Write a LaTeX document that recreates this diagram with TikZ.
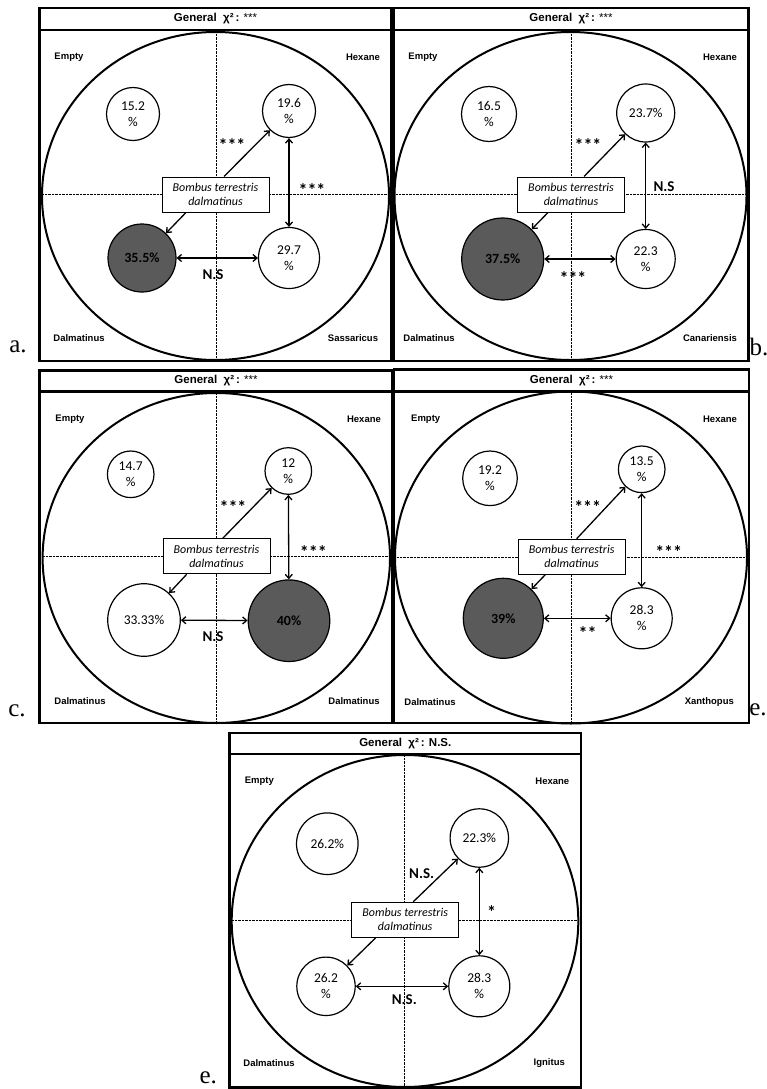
\documentclass[tikz,border=0pt]{standalone}
\usepackage{fontspec}
\usetikzlibrary{arrows.meta,calc}
\newfontfamily\labf{Liberation Sans}
\newfontfamily\calf{Carlito}
\newfontfamily\serf{Liberation Serif}
\definecolor{darkg}{HTML}{5A5A5A}
\tikzset{
  framebox/.style={line width=2.6pt},
  arena/.style={line width=2pt},
  dotline/.style={line width=0.7pt, dash pattern=on 0.7pt off 0.7pt},
  pc/.style={circle, draw, line width=1.2pt, fill=white, inner sep=0pt, align=center,
     font=\calf\fontsize{13.5}{16}\selectfont},
  dk/.style={pc, fill=darkg, font=\calf\bfseries\fontsize{14}{16}\selectfont},
  species/.style={draw, line width=1pt, fill=white, minimum width=107pt, minimum height=35pt,
     inner sep=0pt, align=center, font=\calf\itshape\fontsize{12}{14}\selectfont},
  arr/.style={-{Straight Barb[length=4pt,width=7pt]}, line width=1.3pt},
  darr/.style={{Straight Barb[length=4pt,width=7pt]}-{Straight Barb[length=4pt,width=7pt]}, line width=1.3pt},
  corner/.style={font=\labf\bfseries\fontsize{9.5}{11}\selectfont, inner sep=0pt},
  sig/.style={font=\calf\bfseries\fontsize{15}{16}\selectfont, inner sep=0pt},
  st/.style={font=\calf\bfseries\fontsize{18}{18}\selectfont, inner sep=0pt},
  ttl/.style={font=\labf\bfseries\fontsize{11.5}{12}\selectfont, inner sep=0pt},
  plab/.style={font=\serf\fontsize{25}{26}\selectfont, inner sep=0pt},
}
\newcommand{\ttltext}[1]{General\ \ χ²\,: #1}
\newcommand{\stars}{{\mdseries ***}}
\begin{document}
\begin{tikzpicture}[x=1pt,y=-1pt]
\useasboundingbox (0,0) rectangle (767,1089);
\fill[white] (0,0) rectangle (767,1089);

% ================= panel a =================
\draw[dotline] (216,31) -- (216,360);
\draw[dotline] (42,194.5) -- (389,194.5);
\draw[arena] (215.5,196) ellipse [x radius=173.5, y radius=164];
\draw[framebox] (39.5,8) rectangle (391.5,30);
\draw[framebox] (39.5,30) rectangle (391.5,361);
\node[ttl] (aT) at (215.5,19) {\ttltext{\stars}};
\node[corner] (aC1) at (69,57) {Empty};
\node[corner] (aC2) at (363,57) {Hexane};
\node[corner] (aC3) at (79,338) {Dalmatinus};
\node[corner] (aC4) at (353,338) {Sassaricus};
\node[pc, minimum size=53pt] (aE) at (133,114) {15.2\\\%};
\node[pc, minimum size=53pt] (aH) at (289,111) {19.6\\\%};
\node[dk, minimum size=68pt] (aD) at (142,258) {35.5\%};
\node[pc, minimum size=61pt] (aS) at (289,258) {29.7\\\%};
\node[species] (aB) at (215.5,194.5) {Bombus terrestris\\dalmatinus};
\draw[arr] ($(aB.north)+(8.5,0)$) -- (aH);
\draw[arr] ($(aB.south)+(-29.5,0)$) -- (aD);
\draw[darr] (aH) -- (aS);
\draw[darr] (aD) -- (aS);
\node[st] (aL1) at (232,145) {***};
\node[st] (aL2) at (312,190) {***};
\node[sig] (aL3) at (213,275) {N.S};
\node[plab] (aP) at (18,347) {a.};

% ================= panel b =================
\draw[dotline] (571,31) -- (571,360);
\draw[dotline] (396,194.5) -- (745,194.5);
\draw[arena] (570.5,196) ellipse [x radius=176, y radius=164];
\draw[framebox] (393.5,8) rectangle (748.5,30);
\draw[framebox] (393.5,30) rectangle (748.5,361);
\node[ttl] (bT) at (571,19) {\ttltext{\stars}};
\node[corner] (bC1) at (423,57) {Empty};
\node[corner] (bC2) at (720,57) {Hexane};
\node[corner] (bC3) at (429,338) {Dalmatinus};
\node[corner] (bC4) at (710,338) {Canariensis};
\node[pc, minimum size=55pt] (bE) at (489,114) {16.5\\\%};
\node[pc, minimum size=58pt] (bH) at (645.7,113) {23.7\%};
\node[dk, minimum size=82pt] (bD) at (502.7,259) {37.5\%};
\node[pc, minimum size=59pt] (bS) at (645.7,259) {22.3\\\%};
\node[species] (bB) at (571,194.5) {Bombus terrestris\\dalmatinus};
\draw[arr] ($(bB.north)+(13,0)$) -- (bH);
\draw[arr] ($(bB.south)+(-23,0)$) -- (bD);
\draw[darr] (bH) -- (bS);
\draw[darr] (bD) -- (bS);
\node[st] (bL1) at (588,145) {***};
\node[sig] (bL2) at (664,187) {N.S};
\node[st] (bL3) at (573,278) {***};
\node[plab] (bP) at (759,347) {b.};

% ================= panel c =================
\draw[dotline] (216.7,393) -- (216.7,722);
\draw[dotline] (43,556.7) -- (390,556.7);
\draw[arena] (216.3,558) ellipse [x radius=173.7, y radius=165];
\draw[framebox] (39.5,370.5) rectangle (392.5,391.5);
\draw[framebox] (39.5,391.5) rectangle (392.5,723);
\node[ttl] (cT) at (216,381) {\ttltext{\stars}};
\node[corner] (cC1) at (70,419) {Empty};
\node[corner] (cC2) at (364,419) {Hexane};
\node[corner] (cC3) at (80,701) {Dalmatinus};
\node[corner] (cC4) at (354,701) {Dalmatinus};
\node[pc, minimum size=46.6pt] (cE) at (130.7,474.3) {14.7\\\%};
\node[pc, minimum size=46.6pt] (cH) at (288.3,471) {12\\\%};
\node[pc, minimum size=72.6pt] (cL) at (144,620) {33.33\%};
\node[dk, minimum size=81.6pt] (cD) at (289,620.7) {40\%};
\node[species] (cB) at (216.5,556.3) {Bombus terrestris\\dalmatinus};
\draw[arr] ($(cB.north)+(6.2,0)$) -- (cH);
\draw[arr] ($(cB.south)+(-29.8,0)$) -- (cL);
\draw[darr] (cH) -- (cD);
\draw[darr] (cL) -- (cD);
\node[st] (cL1) at (233,507) {***};
\node[st] (cL2) at (313.3,552) {***};
\node[sig] (cL3) at (213,637) {N.S};
\node[plab] (cP) at (17,711) {c.};

% ================= panel d =================
\draw[dotline] (571.7,393) -- (571.7,722);
\draw[dotline] (397,557.7) -- (745,557.7);
\draw[arena] (571,557.5) ellipse [x radius=176, y radius=166];
\draw[framebox] (394,369.5) rectangle (749,391.5);
\draw[framebox] (394,391.5) rectangle (749,723);
\node[ttl] (dT) at (571.5,380.5) {\ttltext{\stars}};
\node[corner] (dC1) at (425.7,419) {Empty};
\node[corner] (dC2) at (720,419) {Hexane};
\node[corner] (dC3) at (430,702) {Dalmatinus};
\node[corner] (dC4) at (709.3,702) {Xanthopus};
\node[pc, minimum size=54.6pt] (dE) at (490,478.3) {19.2\\\%};
\node[pc, minimum size=46.6pt] (dH) at (641.7,469.3) {13.5\\\%};
\node[dk, minimum size=80pt] (dD) at (503.3,618.3) {39\%};
\node[pc, minimum size=61pt] (dS) at (641.7,618.3) {28.3\\\%};
\node[species] (dB) at (571.7,556.7) {Bombus terrestris\\dalmatinus};
\draw[arr] ($(dB.north)+(5,0)$) -- (dH);
\draw[arr] ($(dB.south)+(-26.4,0)$) -- (dD);
\draw[darr] (dH) -- (dS);
\draw[darr] (dD) -- (dS);
\node[st] (dL1) at (587.7,507) {***};
\node[st] (dL2) at (668.7,552) {***};
\node[st] (dL3) at (587.7,633) {**};
\node[plab] (dP) at (758,710) {e.};

% ================= panel e =================
\draw[dotline] (404.3,755) -- (404.3,1087);
\draw[dotline] (232,920.3) -- (578,920.3);
\draw[arena] (405,921) ellipse [x radius=173.3, y radius=166];
\draw[framebox] (229.5,733) rectangle (581,754);
\draw[framebox] (229.5,754) rectangle (581,1087.5);
\node[ttl] (eT) at (405.3,743.5) {\ttltext{N.S.}};
\node[corner] (eC1) at (259.3,781) {Empty};
\node[corner] (eC2) at (552.3,781) {Hexane};
\node[corner] (eC3) at (269,1063) {Dalmatinus};
\node[corner] (eC4) at (549.3,1063) {Ignitus};
\node[pc, minimum size=61.6pt] (eE) at (327.3,843.7) {26.2\%};
\node[pc, minimum size=58.4pt] (eH) at (479.3,838) {22.3\%};
\node[pc, minimum size=58.4pt] (eL) at (326,986.3) {26.2\\\%};
\node[pc, minimum size=61pt] (eS) at (479.3,986.3) {28.3\\\%};
\node[species] (eB) at (405.2,919.8) {Bombus terrestris\\dalmatinus};
\draw[arr] ($(eB.north)+(8,0)$) -- (eH);
\draw[arr] ($(eB.south)+(-29.5,0)$) -- (eL);
\draw[darr] (eH) -- (eS);
\draw[darr] (eL) -- (eS);
\node[sig] (eL1) at (421.7,874) {N.S.};
\node[st] (eL2) at (491.7,912) {*};
\node[sig] (eL3) at (404.3,1000) {N.S.};
\node[plab] (eP) at (208.3,1078) {e.};
\end{tikzpicture}
\end{document}
